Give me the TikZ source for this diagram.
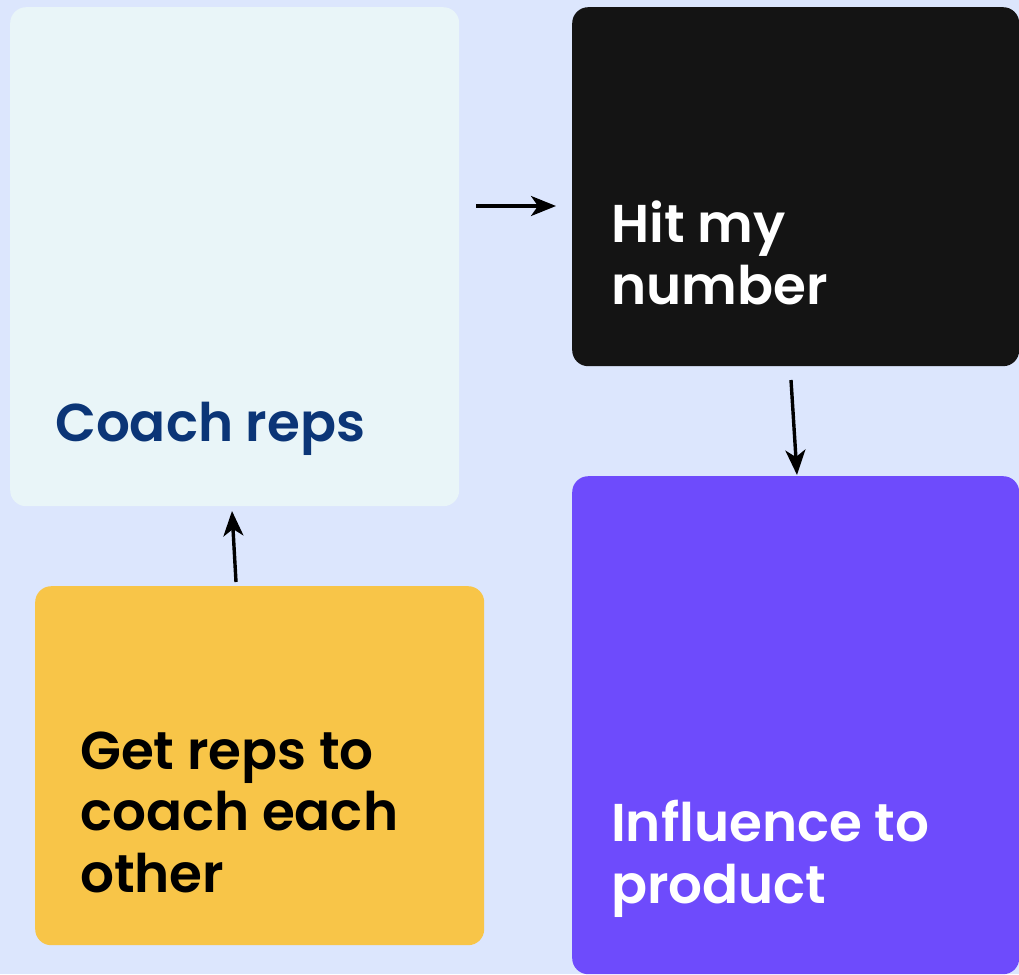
\documentclass[tikz,border=0pt]{standalone}
\usepackage{fontspec}
\newfontfamily\popfont{Poppins SemiBold}
\usetikzlibrary{arrows.meta}
\definecolor{canvas}{HTML}{DCE6FD}
\definecolor{paleblue}{HTML}{E9F5F8}
\definecolor{inkblue}{HTML}{0B3577}
\definecolor{nearblack}{HTML}{141414}
\definecolor{violet}{HTML}{6E4BFC}
\definecolor{mustard}{HTML}{F8C548}
\tikzset{
  card/.style={rectangle, rounded corners=16pt, anchor=north west, inner sep=0pt, draw=none},
  label/.style={anchor=base west, inner sep=0pt, align=left,
    font=\popfont\fontsize{53.2pt}{61.5pt}\selectfont},
  link/.style={line width=3.4pt, -{Stealth[length=25pt,width=20pt,inset=7pt]}},
}
\begin{document}
\begin{tikzpicture}[x=1pt,y=-1pt]
  \fill[canvas] (0,0) rectangle (1019,974);
  \useasboundingbox (0,0) rectangle (1019,974);

  % cards
  \node[card, fill=paleblue, minimum width=449pt, minimum height=499pt] (coach) at (10,7) {};
  \node[card, fill=nearblack, minimum width=447pt, minimum height=359pt] (hit) at (572,7) {};
  \node[card, fill=violet, minimum width=447pt, minimum height=498pt] (influence) at (572,476) {};
  \node[card, fill=mustard, minimum width=449pt, minimum height=359pt] (peer) at (35,586) {};

  % card titles (base anchor sits on the last line)
  \node[label, text=inkblue] (coachtxt) at (55,441) {Coach reps};
  \node[label, text=white] (hittxt) at (611,304) {Hit my\\number};
  \node[label, text=black] (peertxt) at (80,892) {Get reps to\\coach each\\other};
  \node[label, text=white] (influencetxt) at (611,903) {Influence to\\product};

  % connectors
  \coordinate (c2hA) at (476,206);
  \coordinate (c2hB) at (556,206);
  \coordinate (h2iA) at (791,380);
  \coordinate (h2iB) at (797,475);
  \coordinate (p2cA) at (236,582);
  \coordinate (p2cB) at (232,511);
  \draw[link] (c2hA) -- (c2hB);
  \draw[link] (h2iA) -- (h2iB);
  \draw[link] (p2cA) -- (p2cB);
\end{tikzpicture}
\end{document}
